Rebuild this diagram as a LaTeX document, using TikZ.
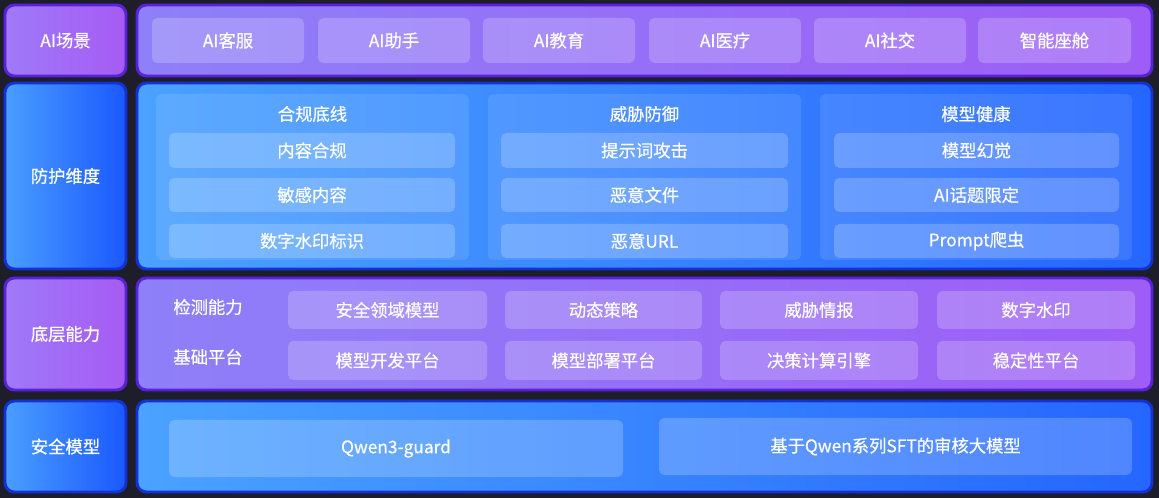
\documentclass[tikz,border=0pt]{standalone}
\usepackage{fontspec}
\setmainfont{Noto Sans CJK SC}[BoldFont={Noto Sans CJK SC}, BoldFeatures={FakeBold=0.5}]
\definecolor{bgdark}{HTML}{1E1E2A}
\definecolor{pL}{HTML}{8E80F8}
\definecolor{pR}{HTML}{9D5DF6}
\definecolor{pEdge}{HTML}{5A22D8}
\definecolor{plabL}{HTML}{9E7AF8}
\definecolor{plabR}{HTML}{A65BF4}
\definecolor{bL}{HTML}{4BA2FF}
\definecolor{bR}{HTML}{2466FF}
\definecolor{bEdge}{HTML}{1432D4}
\definecolor{blabL}{HTML}{4A9EFF}
\definecolor{blabR}{HTML}{1A58FF}
\tikzset{
  txt/.style={text=white, font=\fontsize{13pt}{15pt}\selectfont\bfseries},
  purplepanel/.style={rounded corners=7pt, left color=pL, right color=pR, draw=pEdge, line width=2.2pt},
  purplelab/.style={rounded corners=7pt, left color=plabL, right color=plabR, draw=pEdge, line width=2.2pt, txt},
  bluepanel/.style={rounded corners=7pt, left color=bL, right color=bR, draw=bEdge, line width=2.2pt},
  bluelab/.style={rounded corners=7pt, left color=blabL, right color=blabR, draw=bEdge, line width=2.2pt, txt},
  pitem/.style={rounded corners=4pt, fill=white, fill opacity=0.2, text opacity=1, txt},
  group/.style={rounded corners=4pt, fill=white, fill opacity=0.1, text opacity=1},
  bitem/.style={rounded corners=4pt, fill=white, fill opacity=0.2, text opacity=1, txt},
  plain/.style={txt, inner sep=0pt},
}
\newcommand{\bx}[7]{%
  \pgfmathsetmacro\bw{(#5-#3)*0.75}%
  \pgfmathsetmacro\bh{(#6-#4)*0.75}%
  \node[#1, minimum width=\bw pt, minimum height=\bh pt, inner sep=0pt] (#2) at ({(#3+#5)/2},{(#4+#6)/2}) {#7};}
\begin{document}
\begin{tikzpicture}[x=0.75pt,y=-0.75pt]
\useasboundingbox (0,0) rectangle (1159,498);
\fill[bgdark] (0,0) rectangle (1159,498);
% ---- row 1
\bx{purplelab}{l1}{5}{5}{126}{76}{AI场景}
\bx{purplepanel}{p1}{137}{5}{1152}{76}{}
\bx{pitem}{s1}{152}{18}{304}{63}{AI客服}
\bx{pitem}{s2}{318}{18}{470}{63}{AI助手}
\bx{pitem}{s3}{483}{18}{635}{63}{AI教育}
\bx{pitem}{s4}{649}{18}{801}{63}{AI医疗}
\bx{pitem}{s5}{814}{18}{966}{63}{AI社交}
\bx{pitem}{s6}{978}{18}{1131}{63}{智能座舱}
% ---- row 2
\bx{bluelab}{l2}{5}{83}{126}{269}{防护维度}
\bx{bluepanel}{p2}{137}{83}{1152}{269}{}
\bx{group}{g1}{156}{94}{469}{260}{}
\bx{group}{g2}{488}{94}{801}{260}{}
\bx{group}{g3}{820}{94}{1132}{260}{}
\node[plain] (t1) at (312.5,114) {合规底线};
\node[plain] (t2) at (644.5,114) {威胁防御};
\node[plain] (t3) at (976,114) {模型健康};
\bx{bitem}{a1}{169}{133}{455}{168}{内容合规}
\bx{bitem}{a2}{169}{178}{455}{212}{敏感内容}
\bx{bitem}{a3}{169}{224}{455}{258}{数字水印标识}
\bx{bitem}{b1}{501}{133}{788}{168}{提示词攻击}
\bx{bitem}{b2}{501}{178}{788}{212}{恶意文件}
\bx{bitem}{b3}{501}{224}{788}{258}{恶意URL}
\bx{bitem}{c1}{834}{133}{1119}{168}{模型幻觉}
\bx{bitem}{c2}{834}{178}{1119}{212}{AI话题限定}
\bx{bitem}{c3}{834}{224}{1119}{258}{Prompt爬虫}
% ---- row 3
\bx{purplelab}{l3}{5}{278}{126}{390}{底层能力}
\bx{purplepanel}{p3}{137}{278}{1152}{390}{}
\node[plain] (r1) at (208,307) {检测能力};
\node[plain] (r2) at (208,357) {基础平台};
\bx{pitem}{d1}{288}{291}{487}{329}{安全领域模型}
\bx{pitem}{d2}{505}{291}{702}{329}{动态策略}
\bx{pitem}{d3}{720}{291}{918}{329}{威胁情报}
\bx{pitem}{d4}{937}{291}{1135}{329}{数字水印}
\bx{pitem}{e1}{288}{341}{487}{380}{模型开发平台}
\bx{pitem}{e2}{505}{341}{702}{380}{模型部署平台}
\bx{pitem}{e3}{720}{341}{918}{380}{决策计算引擎}
\bx{pitem}{e4}{937}{341}{1135}{380}{稳定性平台}
% ---- row 4
\bx{bluelab}{l4}{5}{401}{126}{492}{安全模型}
\bx{bluepanel}{p4}{137}{401}{1152}{492}{}
\bx{bitem}{m1}{169}{420}{623}{477}{Qwen3-guard}
\bx{bitem}{m2}{659}{418}{1132}{475}{基于Qwen系列SFT的审核大模型}
\end{tikzpicture}
\end{document}
